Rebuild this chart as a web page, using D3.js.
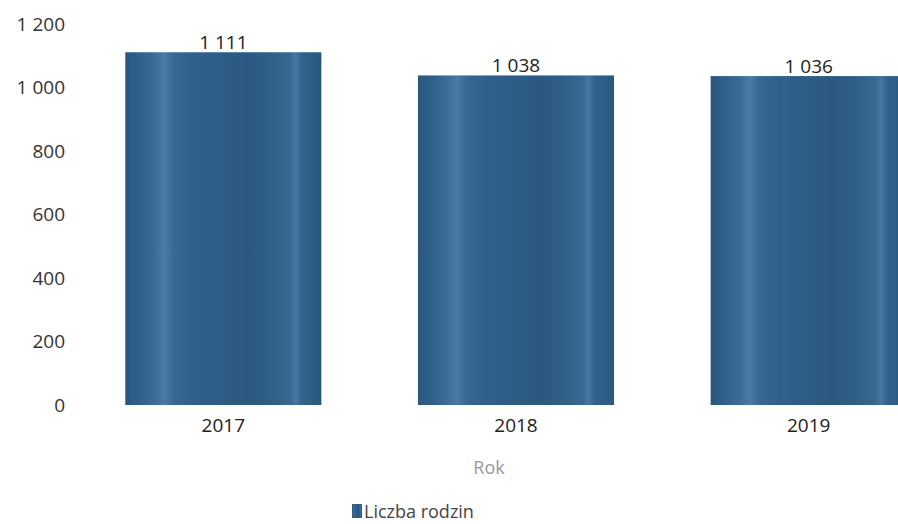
<!DOCTYPE html>
<html><head><meta charset="utf-8">
<script src="https://cdn.jsdelivr.net/npm/d3@7/dist/d3.min.js"></script>
<style>
html,body{margin:0;padding:0;background:#fff;overflow:hidden}
svg{display:block;font-family:"Open Sans","Noto Sans",sans-serif}
</style></head><body>
<svg id="c" width="898" height="524"></svg>
<script>
const categories = ["2017", "2018", "2019"];
const values = [1111, 1038, 1036];
const valueLabels = ["1 111", "1 038", "1 036"];
const yTicks = [0, 200, 400, 600, 800, 1000, 1200];
const yTickLabels = ["0", "200", "400", "600", "800", "1 000", "1 200"];
const seriesName = "Liczba rodzin";
const axisTitle = "Rok";

const svg = d3.select("#c");
const x = d3.scaleBand().domain(categories).range([77, 955]).paddingInner(0.33).paddingOuter(0.165);
const y = d3.scaleLinear().domain([0, 1200]).range([405, 24]);

const defs = svg.append("defs");
const g = defs.append("linearGradient").attr("id", "bg").attr("x1", "0").attr("x2", "1").attr("y1", "0").attr("y2", "0");
[[0, "#2a567d"], [0.06, "#2f5f88"], [0.14, "#3a6a93"], [0.2, "#4b7ba3"], [0.25, "#386891"],
 [0.35, "#30608a"], [0.5, "#2d5c85"], [0.62, "#2b5880"], [0.72, "#2e5d86"], [0.84, "#386890"],
 [0.87, "#4677a0"], [0.9, "#32628b"], [1, "#2a577f"]].forEach(([o, c]) =>
  g.append("stop").attr("offset", o).attr("stop-color", c));

// y axis labels
const ya = svg.append("g").attr("transform", "translate(65,0)")
  .call(d3.axisLeft(y).tickValues(yTicks).tickSize(0).tickPadding(0)
    .tickFormat((d, i) => yTickLabels[i]));
ya.select(".domain").remove();
ya.selectAll("text").attr("font-size", 19).attr("fill", "#333").attr("font-family", "Open Sans, Noto Sans, sans-serif");

// bars
svg.append("g").selectAll("rect").data(values).join("rect")
  .attr("x", (d, i) => x(categories[i]))
  .attr("width", x.bandwidth())
  .attr("y", d => y(d))
  .attr("height", d => y(0) - y(d))
  .attr("fill", "url(#bg)");

// value labels
svg.append("g").selectAll("text").data(values).join("text")
  .attr("x", (d, i) => x(categories[i]) + x.bandwidth() / 2)
  .attr("y", d => y(d) - 3)
  .attr("text-anchor", "middle")
  .attr("font-size", 19).attr("fill", "#222")
  .text((d, i) => valueLabels[i]);

// x axis
const xa = svg.append("g").attr("transform", "translate(0,405)")
  .call(d3.axisBottom(x).tickSize(0).tickPadding(14));
xa.select(".domain").remove();
xa.selectAll("text").attr("font-size", 19).attr("fill", "#222").attr("font-family", "Open Sans, Noto Sans, sans-serif");

svg.append("text").attr("x", 489).attr("y", 474).attr("text-anchor", "middle")
  .attr("font-size", 18).attr("fill", "#999").text(axisTitle);

// legend
const lg = svg.append("g").attr("transform", "translate(352,504)");
lg.append("rect").attr("width", 10).attr("height", 14).attr("fill", "url(#bg)");
lg.append("text").attr("x", 12).attr("y", 14).attr("font-size", 18).attr("fill", "#444").text(seriesName);
</script>
</body></html>
